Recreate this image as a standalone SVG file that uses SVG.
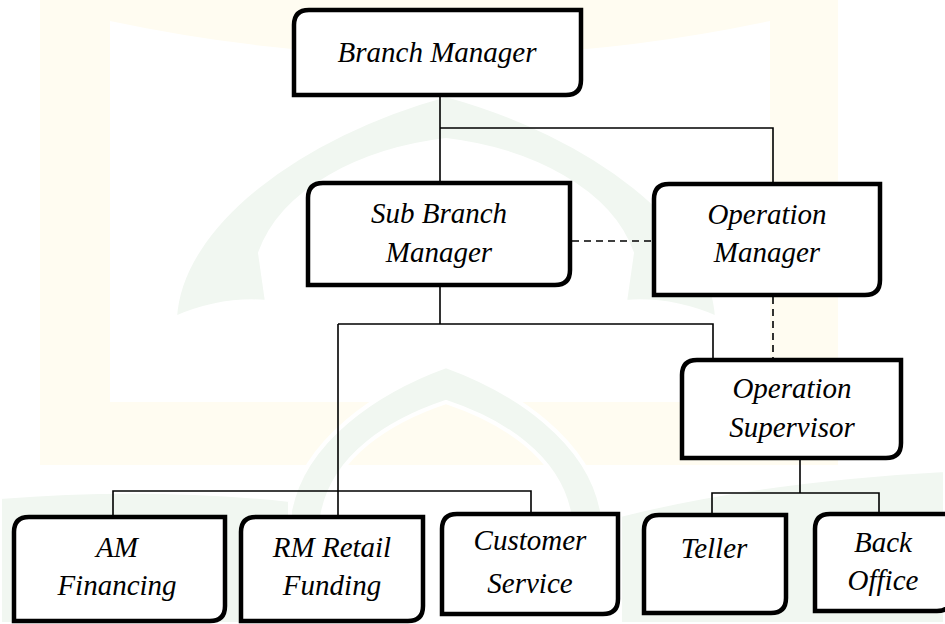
<svg xmlns="http://www.w3.org/2000/svg" width="945" height="624" viewBox="0 0 945 624">
  <style>
    .box { fill: #ffffff; stroke: #000000; stroke-width: 4.5; stroke-linejoin: miter; }
    .wire { fill: none; stroke: #000000; stroke-width: 1.6; }
    .dash { fill: none; stroke: #000000; stroke-width: 1.6; stroke-dasharray: 7 5; }
    .wm-y { fill: #fffcf1; }
    .wm-g { fill: #f1f7f1; stroke: #ffffff; stroke-width: 4; }
  </style>

  <rect x="0" y="0" width="945" height="624" fill="#ffffff"/>

  <!-- faint background emblem -->
  <g id="emblem">
    <path class="wm-y" fill-rule="evenodd" d="M40,0 H838 V465 H40 Z M110,21 Q440,91 770,21 V402 H110 Z"/>
    <path class="wm-g" d="M175,318 C180,225 300,135 446,95 C592,135 712,225 717,318 Q670,298 625,302 L632,253 C610,190 530,150 446,140 C362,150 282,190 260,253 L267,302 Q222,298 175,318 Z"/>
    <path class="wm-g" d="M289,517 C300,440 380,390 446,366 C512,390 592,440 603,517 L570,517 C560,455 500,420 446,402 C392,420 332,455 322,517 Z"/>
    <path class="wm-g" d="M0,497 Q150,485 290,500 L290,624 L0,624 Z"/>
    <path class="wm-g" d="M620,515 Q760,480 945,470 V624 H620 Z"/>
  </g>

  <!-- reporting lines -->
  <g id="connectors">
    <path class="wire" d="M440,97 V183 M440,128 H773 V182"/>
    <path class="wire" d="M440,287 V324 M338,324 H713 V358 M338,324 V515"/>
    <path class="wire" d="M113,515 V491 H531 V512"/>
    <path class="wire" d="M800,460 V493 M712,513 V493 H879 V512"/>
    <path class="dash" d="M572,241 H652"/>
    <path class="dash" d="M773,297 V358"/>
  </g>

  <!-- boxes: rounded top-left and bottom-right corners -->
  <g id="nodes" font-size="29" fill="#000000">
    <g id="branch-manager">
      <path class="box" d="M309,10 H581 V80 Q581,95 566,95 H294 V25 Q294,10 309,10 Z"/>
      <text x="437" y="62" font-family="Liberation Serif" font-style="italic" text-anchor="middle">Branch Manager</text>
    </g>

    <g id="sub-branch-manager">
      <path class="box" d="M323,183 H570 V270 Q570,285 555,285 H308 V198 Q308,183 323,183 Z"/>
      <text x="439" y="223" font-family="Liberation Serif" font-style="italic" text-anchor="middle">Sub Branch</text>
      <text x="439" y="262" font-family="Liberation Serif" font-style="italic" text-anchor="middle">Manager</text>
    </g>

    <g id="operation-manager">
      <path class="box" d="M669,184 H880 V280 Q880,295 865,295 H654 V199 Q654,184 669,184 Z"/>
      <text x="767" y="224" font-family="Liberation Serif" font-style="italic" text-anchor="middle">Operation</text>
      <text x="767" y="262" font-family="Liberation Serif" font-style="italic" text-anchor="middle">Manager</text>
    </g>

    <g id="operation-supervisor">
      <path class="box" d="M697,360 H901 V443 Q901,458 886,458 H682 V375 Q682,360 697,360 Z"/>
      <text x="792" y="398" font-family="Liberation Serif" font-style="italic" text-anchor="middle">Operation</text>
      <text x="792" y="437" font-family="Liberation Serif" font-style="italic" text-anchor="middle">Supervisor</text>
    </g>

    <g id="am-financing">
      <path class="box" d="M29,517 H225 V606 Q225,621 210,621 H14 V532 Q14,517 29,517 Z"/>
      <text x="117" y="557" font-family="Liberation Serif" font-style="italic" text-anchor="middle">AM</text>
      <text x="117" y="595" font-family="Liberation Serif" font-style="italic" text-anchor="middle">Financing</text>
    </g>

    <g id="rm-retail-funding">
      <path class="box" d="M256,517 H423 V606 Q423,621 408,621 H241 V532 Q241,517 256,517 Z"/>
      <text x="332" y="557" font-family="Liberation Serif" font-style="italic" text-anchor="middle">RM Retail</text>
      <text x="332" y="595" font-family="Liberation Serif" font-style="italic" text-anchor="middle">Funding</text>
    </g>

    <g id="customer-service">
      <path class="box" d="M457,514 H618 V599 Q618,614 603,614 H442 V529 Q442,514 457,514 Z"/>
      <text x="530" y="550" font-family="Liberation Serif" font-style="italic" text-anchor="middle">Customer</text>
      <text x="530" y="593" font-family="Liberation Serif" font-style="italic" text-anchor="middle">Service</text>
    </g>

    <g id="teller">
      <path class="box" d="M659,515 H786 V598 Q786,613 771,613 H644 V530 Q644,515 659,515 Z"/>
      <text x="714" y="558" font-family="Liberation Serif" font-style="italic" text-anchor="middle">Teller</text>
    </g>

    <g id="back-office">
      <path class="box" d="M830,514 H952 V596 Q952,611 937,611 H815 V529 Q815,514 830,514 Z"/>
      <text x="883" y="552" font-family="Liberation Serif" font-style="italic" text-anchor="middle">Back</text>
      <text x="883" y="590" font-family="Liberation Serif" font-style="italic" text-anchor="middle">Office</text>
    </g>
  </g>
</svg>
